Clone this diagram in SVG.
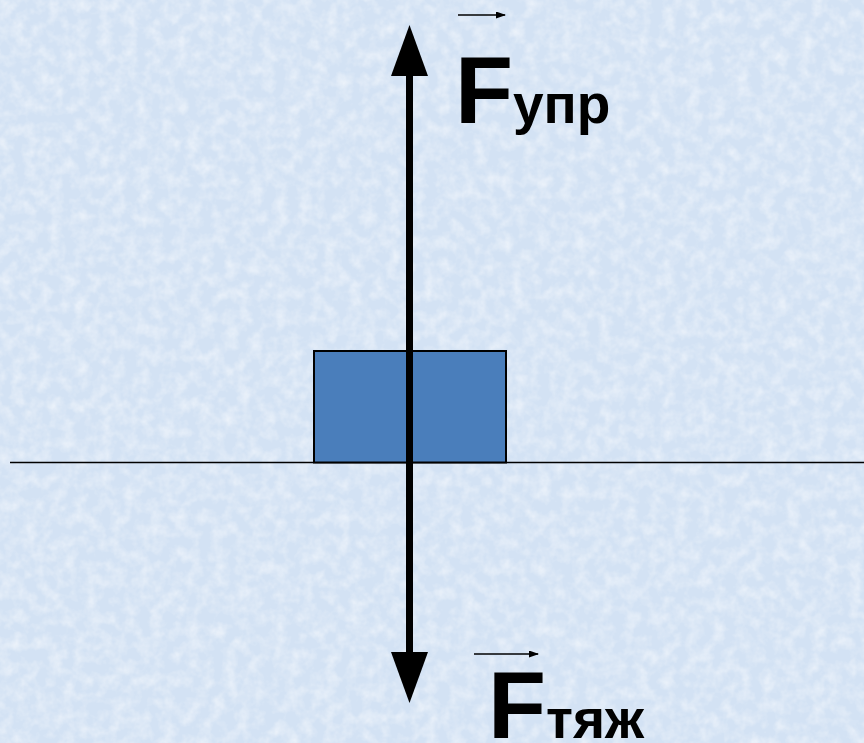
<svg xmlns="http://www.w3.org/2000/svg" width="864" height="743" viewBox="0 0 864 743">
<style>
.lbl{font-family:"Liberation Sans",Arial,sans-serif;font-weight:bold;fill:#000}
.big{font-size:95px}
.sub{font-size:55px}
.vec{stroke:#000;stroke-width:1.6;fill:none}
</style>
<defs>
<filter id="tex" x="0" y="0" width="100%" height="100%">
<feTurbulence type="fractalNoise" baseFrequency="0.08" numOctaves="3" seed="4" result="n"/>
<feColorMatrix in="n" type="matrix" values="0 0 0 0 1  0 0 0 0 1  0 0 0 0 1  0 0 0 -1.6 1.0" result="w"/>
<feComposite in="w" in2="SourceGraphic" operator="in"/>
</filter>
<marker id="sa" viewBox="0 0 10 10" refX="9" refY="5" markerWidth="10" markerHeight="7" markerUnits="userSpaceOnUse" orient="auto" preserveAspectRatio="none">
<path d="M0,0 L10,5 L0,10 Z" fill="#000"/>
</marker>
</defs>
<rect width="864" height="743" fill="#d3e2f4"/>
<rect width="864" height="743" fill="#eef4fc" filter="url(#tex)" opacity="0.6"/>
<line x1="10" y1="462.5" x2="864" y2="462.5" stroke="#000" stroke-width="1.6"/>
<g id="block">
<rect x="314" y="351" width="192" height="111.5" fill="#4a7ebb" stroke="#000" stroke-width="2"/>
</g>
<g id="connectors">
<line x1="409.5" y1="70" x2="409.5" y2="658" stroke="#000" stroke-width="7"/>
<polygon points="409.5,25 391,76 428,76" fill="#000"/>
<polygon points="409.5,703 391,652 428,652" fill="#000"/>
</g>
<g id="label-upr">
<line class="vec" x1="458" y1="15" x2="505" y2="15" marker-end="url(#sa)"/>
<text class="lbl" x="455" y="123"><tspan class="big">F</tspan><tspan class="sub">упр</tspan></text>
</g>
<g id="label-tyazh">
<line class="vec" x1="474" y1="654" x2="538" y2="654" marker-end="url(#sa)"/>
<text class="lbl" x="488" y="738"><tspan class="big">F</tspan><tspan class="sub">тяж</tspan></text>
</g>
</svg>
